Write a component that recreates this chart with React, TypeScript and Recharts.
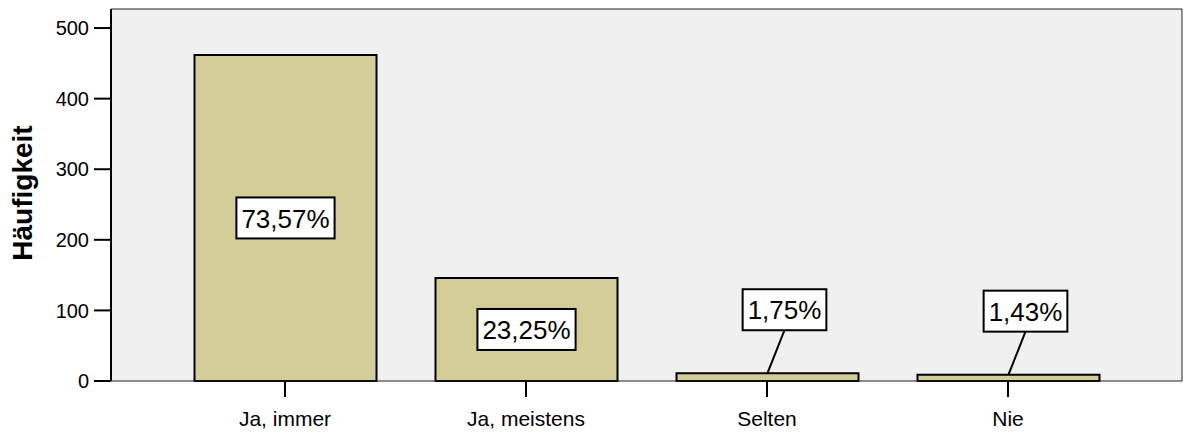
import { BarChart, Bar, XAxis, YAxis, CartesianGrid, LabelList, Label } from "recharts";

// ── Data ──────────────────────────────────────────────────────

const categories = ["Ja, immer", "Ja, meistens", "Selten", "Nie"];
const counts = [462, 146, 11, 9];
const percentLabels = ["73,57%", "23,25%", "1,75%", "1,43%"];
const yTicks = [0, 100, 200, 300, 400, 500];
const yMax = 527;

const data = categories.map((name, i) => ({
  name,
  count: counts[i],
  pct: percentLabels[i],
}));

const FONT = '"Liberation Sans", Arial, Helvetica, sans-serif';
const BAR_FILL = "#d3ce97";
const PLOT_BG = "#f0f0f0";
const FRAME = "#222222";

// ── Helpers ───────────────────────────────────────────────────

let measureCtx: CanvasRenderingContext2D | null = null;
function textWidth(s: string, size: number) {
  if (!measureCtx) measureCtx = document.createElement("canvas").getContext("2d");
  if (!measureCtx) return s.length * size * 0.56;
  measureCtx.font = `${size}px ${FONT}`;
  return measureCtx.measureText(s).width;
}

// percentage box: centred in tall bars, lifted above short ones with a leader line
function PctLabel(props: any) {
  const vb = props.viewBox ?? props;
  const { x, y, width, height } = vb;
  const value = String(props.value);
  const fs = 26;
  const w = textWidth(value, fs) + 10;
  const h = 41;
  const cx = x + width / 2;

  if (height > h + 20) {
    const cy = y + height / 2;
    return (
      <g>
        <rect x={cx - w / 2} y={cy - h / 2} width={w} height={h} fill="#fff" stroke="#000" strokeWidth={2} />
        <text x={cx} y={cy + fs * 0.37} textAnchor="middle" fontSize={fs} fontFamily={FONT} fill="#000">
          {value}
        </text>
      </g>
    );
  }

  const bx = cx + 17;
  const bottom = y - 43;
  const cy = bottom - h / 2;
  return (
    <g>
      <line x1={bx} y1={bottom} x2={cx} y2={y} stroke="#000" strokeWidth={2} />
      <rect x={bx - w / 2} y={bottom - h} width={w} height={h} fill="#fff" stroke="#000" strokeWidth={2} />
      <text x={bx} y={cy + fs * 0.37} textAnchor="middle" fontSize={fs} fontFamily={FONT} fill="#000">
        {value}
      </text>
    </g>
  );
}

function YTitle(props: any) {
  const vb = props.viewBox;
  const x = vb.x + 32;
  const y = vb.y + vb.height / 2 - 2;
  return (
    <text
      x={x}
      y={y}
      transform={`rotate(-90, ${x}, ${y})`}
      textAnchor="middle"
      fontSize={28}
      fontWeight="bold"
      fontFamily={FONT}
      fill="#000"
    >
      Häufigkeit
    </text>
  );
}

// ── App ───────────────────────────────────────────────────────

export default function App() {
  return (
    <div style={{ position: "absolute", left: 0, top: 0, width: 1183, height: 432, background: "#fff" }}>
      <BarChart
        width={1183}
        height={432}
        data={data}
        margin={{ top: 8, right: 0, left: 0, bottom: 0 }}
        barSize={182}
      >
        <CartesianGrid horizontal={false} vertical={false} fill={PLOT_BG} />
        <XAxis
          dataKey="name"
          interval={0}
          height={51}
          padding={{ left: 53.5, right: 53.5 }}
          tickSize={16}
          tickMargin={14}
          axisLine={{ stroke: FRAME, strokeWidth: 1 }}
          tickLine={{ stroke: "#000", strokeWidth: 2 }}
          tick={{ fontSize: 21, fill: "#000", fontFamily: FONT }}
        />
        {/* top and right axes only draw the plot frame */}
        <XAxis
          xAxisId="top"
          orientation="top"
          dataKey="name"
          height={1}
          padding={{ left: 53.5, right: 53.5 }}
          tick={false}
          tickLine={false}
          axisLine={{ stroke: FRAME, strokeWidth: 1 }}
        />
        <YAxis
          width={111}
          domain={[0, yMax]}
          ticks={yTicks}
          interval={0}
          tickSize={17}
          tickMargin={5}
          axisLine={{ stroke: "#000", strokeWidth: 2 }}
          tickLine={{ stroke: "#000", strokeWidth: 2 }}
          tick={{ fontSize: 20, fill: "#000", fontFamily: FONT }}
        >
          <Label content={YTitle} />
        </YAxis>
        <YAxis
          yAxisId="right"
          orientation="right"
          width={1}
          domain={[0, yMax]}
          tick={false}
          tickLine={false}
          axisLine={{ stroke: FRAME, strokeWidth: 1 }}
        />
        <Bar dataKey="count" fill={BAR_FILL} stroke="#000" strokeWidth={2} isAnimationActive={false}>
          <LabelList dataKey="pct" content={PctLabel} />
        </Bar>
      </BarChart>
    </div>
  );
}
